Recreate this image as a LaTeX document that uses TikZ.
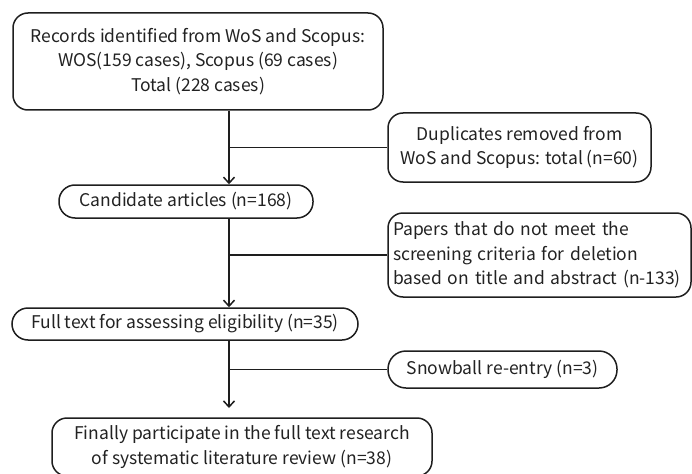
\documentclass[tikz,border=0pt]{standalone}
\usepackage{fontspec}
\setmainfont{Noto Sans CJK SC}
\usetikzlibrary{arrows.meta}
\definecolor{txt}{HTML}{222222}
\definecolor{ln}{HTML}{1E1E1E}
\begin{document}
\begin{tikzpicture}[x=1pt,y=-1pt,
  box/.style={draw=ln,line width=1.5pt,rounded corners=15pt,text=txt,inner sep=0pt,
    font=\fontsize{17.5}{24.5}\selectfont,align=center},
  pill/.style={box,rounded corners=16pt},
  conn/.style={draw=ln,line width=1.5pt},
  arr/.style={conn,-{Straight Barb[length=6pt,width=11pt,line width=1.5pt]}}]
\useasboundingbox (0,0) rectangle (692,473);
\node[box,minimum width=370pt,minimum height=97pt] (top) at (198,61.5)
  {Records identified from WoS and Scopus:\\WOS(159 cases), Scopus (69 cases)\\Total (228 cases)};
\node[box,minimum width=263pt,minimum height=69pt] (dup) at (519.5,147.5)
  {Duplicates removed from\\WoS and Scopus: total (n=60)};
\node[pill,minimum width=254pt,minimum height=33pt] (cand) at (186,201.5)
  {Candidate articles (n=168)};
\node[box,minimum width=303pt,minimum height=84pt,text width=293pt,align=left] (pap) at (539.5,255)
  {Papers that do not meet the\\screening criteria for deletion\\based on title and abstract (n-133)};
\node[pill,minimum width=346pt,minimum height=32pt] (full) at (185,324)
  {Full text for assessing eligibility (n=35)};
\node[pill,rounded corners=18pt,minimum width=229pt,minimum height=37pt] (snow) at (502.5,369.5)
  {Snowball re-entry (n=3)};
\node[box,minimum width=380pt,minimum height=58pt] (fin) at (242,447)
  {Finally participate in the full text research\\of systematic literature review (n=38)};
\coordinate (vx) at (229,0);
\coordinate (b1) at (229,147.5);
\coordinate (b2) at (229,255);
\coordinate (b3) at (229,369.5);
\coordinate (e3) at (229,408);
\draw[arr] (top.south -| vx) -- (cand.north -| vx);
\draw[conn] (b1) -- (dup.west);
\draw[arr] (cand.south -| vx) -- (full.north -| vx);
\draw[conn] (b2) -- (pap.west);
\draw[arr] (full.south -| vx) -- (e3);
\draw[conn] (b3) -- (snow.west);
\end{tikzpicture}
\end{document}
